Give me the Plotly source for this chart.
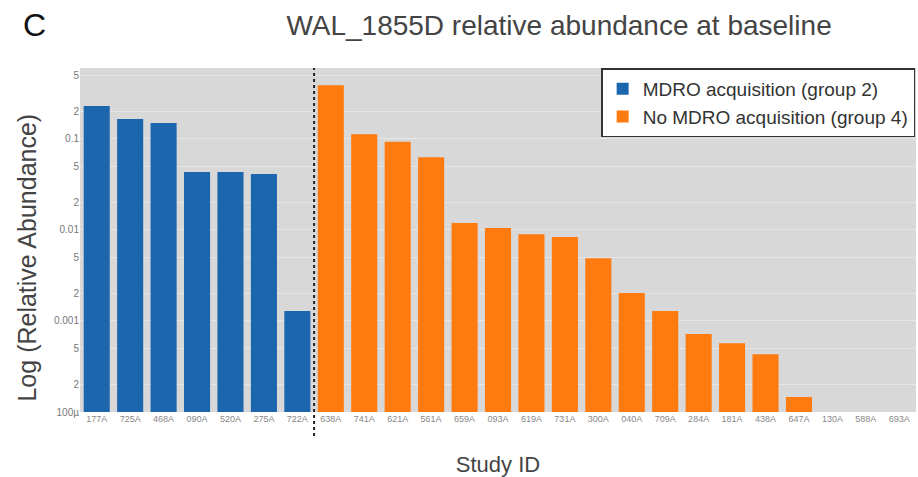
import plotly.graph_objects as go

group2_ids = ["177A", "725A", "468A", "090A", "520A", "275A", "722A"]
group2_vals = [0.23, 0.166, 0.15, 0.0434, 0.0434, 0.0412, 0.00129]

group4_ids = ["638A", "741A", "621A", "561A", "659A", "093A", "619A", "731A", "300A",
              "040A", "709A", "284A", "181A", "438A", "647A", "130A", "588A", "693A"]
group4_vals = [0.39, 0.113, 0.093, 0.063, 0.0119, 0.0105, 0.0090, 0.0084, 0.0049,
               0.00203, 0.00129, 0.00072, 0.00057, 0.00043, 0.000146, None, None, None]

tick_vals = [1e-4, 2e-4, 5e-4, 1e-3, 2e-3, 5e-3, 1e-2, 2e-2, 5e-2, 0.1, 0.2, 0.5]
tick_text = ["100µ", "2", "5", "0.001", "2", "5", "0.01", "2", "5", "0.1", "2", "5"]

fig = go.Figure()
fig.add_trace(go.Bar(x=group2_ids, y=group2_vals, name="MDRO acquisition (group 2)",
                     marker=dict(color="#1c66ae", line=dict(width=0))))
fig.add_trace(go.Bar(x=group4_ids, y=group4_vals, name="No MDRO acquisition (group 4)",
                     marker=dict(color="#ff7b0f", line=dict(width=0))))

fig.add_shape(type="line", xref="x", yref="paper", x0=6.5, x1=6.5, y0=-0.07, y1=1,
              line=dict(color="#222222", width=2, dash="dot"))

# panel letter
fig.add_annotation(text="C", xref="paper", yref="paper", x=-0.07, y=1.125,
                   xanchor="left", yanchor="middle", showarrow=False,
                   font=dict(size=32, color="#111111", family="Liberation Sans"))
# y axis title
fig.add_annotation(text="Log (Relative Abundance)", xref="paper", yref="paper",
                   x=-0.063, y=0.45, xanchor="center", yanchor="middle", showarrow=False,
                   textangle=-90, font=dict(size=25, color="#444444", family="Liberation Sans"))

fig.update_layout(
    width=918, height=477,
    margin=dict(l=80, r=2, t=68, b=65),
    paper_bgcolor="white",
    plot_bgcolor="#d8d8d8",
    font=dict(family="Liberation Sans", color="#444444"),
    title=dict(text="WAL_1855D relative abundance at baseline", x=0.609, xanchor="center",
               y=0.947, yanchor="middle", font=dict(size=28, color="#444444")),
    bargap=0.22,
    showlegend=True,
    legend=dict(x=0.999, y=0.999, xanchor="right", yanchor="top", bgcolor="white",
                bordercolor="#333333", borderwidth=1.5, font=dict(size=19, color="#333333"),
                tracegroupgap=2),
    xaxis=dict(title=dict(text="Study ID", font=dict(size=22, color="#444444"), standoff=33),
               tickfont=dict(size=9, color="#888888"), showgrid=False, ticks="",
               categoryorder="array", categoryarray=group2_ids + group4_ids),
    yaxis=dict(type="log", range=[-4, -0.22],
               tickvals=tick_vals, ticktext=tick_text,
               tickfont=dict(size=10, color="#777777"),
               showgrid=True, gridcolor="#e6e6e6", gridwidth=1, zeroline=False, ticks=""),
)

fig.write_html("out.html")
